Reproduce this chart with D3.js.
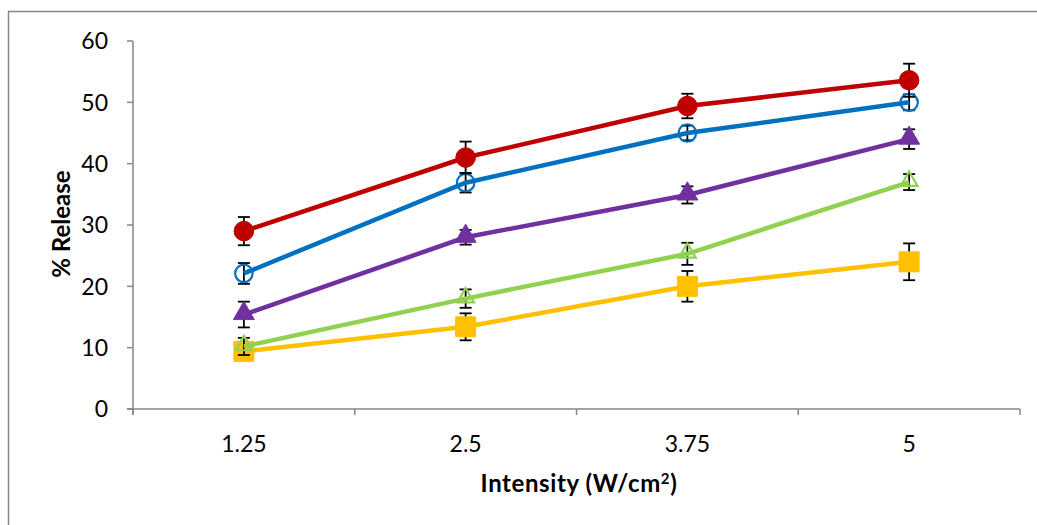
<!DOCTYPE html>
<html>
<head>
<meta charset="utf-8">
<script src="https://cdn.jsdelivr.net/npm/d3@7"></script>
<style>
  body { margin: 0; background: #fff; }
  svg { display: block; }
  text { font-family: Lato, "Open Sans", sans-serif; fill: #000; }
</style>
</head>
<body>
<div id="chart"></div>
<script>
// categories (intensity, W/cm2)
const intensities = ["1.25", "2.5", "3.75", "5"];
const yTicks = [0, 10, 20, 30, 40, 50, 60];

// series values (% release) and their error bars
const orangeValues = [9.4, 13.4, 20.0, 24.0];
const orangeErrors = [0.9, 2.2, 2.5, 3.0];
const greenValues = [10.2, 18.0, 25.3, 37.0];
const greenErrors = [1.4, 1.5, 1.8, 1.3];
const purpleValues = [15.4, 28.0, 34.9, 44.0];
const purpleErrors = [2.1, 1.2, 1.4, 1.6];
const blueValues = [22.1, 36.9, 45.0, 50.0];
const blueErrors = [1.7, 1.6, 1.2, 1.3];
const redValues = [29.0, 41.0, 49.4, 53.6];
const redErrors = [2.3, 2.6, 2.0, 2.7];

// drawing order: bottom to top
const series = [
  { values: orangeValues, errors: orangeErrors, color: "#FFC000", marker: "square", filled: true },
  { values: greenValues, errors: greenErrors, color: "#92D050", marker: "triangle", filled: false },
  { values: purpleValues, errors: purpleErrors, color: "#7030A0", marker: "triangle", filled: true },
  { values: blueValues, errors: blueErrors, color: "#0070C0", marker: "circle", filled: false },
  { values: redValues, errors: redErrors, color: "#C00000", marker: "circle", filled: true }
];

const width = 1037, height = 525;
const axisColor = "#868686";

const svg = d3.select("#chart").append("svg")
  .attr("width", width)
  .attr("height", height);

// outer frame (only left and top edges fall inside the picture)
svg.append("path")
  .attr("d", "M8.5,530 L8.5,11.5 L1045,11.5")
  .attr("fill", "none")
  .attr("stroke", axisColor)
  .attr("stroke-width", 1.5);

const x = d3.scaleBand().domain(intensities).range([133, 1020]);
const y = d3.scaleLinear().domain([0, 60]).range([409, 41]);

// y axis
const yAxis = svg.append("g");
yAxis.append("line")
  .attr("x1", 133).attr("x2", 133)
  .attr("y1", y(60)).attr("y2", y(0) + 6)
  .attr("stroke", axisColor).attr("stroke-width", 1.5);
yAxis.selectAll(".ytick")
  .data(yTicks)
  .join("line")
  .attr("x1", 127).attr("x2", 133)
  .attr("y1", d => y(d)).attr("y2", d => y(d))
  .attr("stroke", axisColor).attr("stroke-width", 1.5);
yAxis.selectAll(".ylabel")
  .data(yTicks)
  .join("text")
  .attr("x", 108)
  .attr("y", d => y(d))
  .attr("dy", "0.36em")
  .attr("text-anchor", "end")
  .style("font-size", "23px")
  .text(d => d);

// x axis
const xAxis = svg.append("g");
xAxis.append("line")
  .attr("x1", 127).attr("x2", 1020)
  .attr("y1", y(0)).attr("y2", y(0))
  .attr("stroke", axisColor).attr("stroke-width", 1.5);
const bounds = intensities.map(d => x(d)).concat([x.range()[1]]);
xAxis.selectAll(".xtick")
  .data(bounds)
  .join("line")
  .attr("x1", d => d).attr("x2", d => d)
  .attr("y1", y(0)).attr("y2", y(0) + 6)
  .attr("stroke", axisColor).attr("stroke-width", 1.5);
xAxis.selectAll(".xlabel")
  .data(intensities)
  .join("text")
  .attr("x", d => x(d) + x.bandwidth() / 2)
  .attr("y", 452)
  .attr("text-anchor", "middle")
  .style("font-size", "23px")
  .text(d => d);

// axis titles
const xTitle = svg.append("text")
  .attr("x", 579)
  .attr("y", 492)
  .attr("text-anchor", "middle")
  .style("font-size", "24px")
  .style("font-weight", "bold")
  .style("letter-spacing", "0.6px");
xTitle.append("tspan").text("Intensity (W/cm");
xTitle.append("tspan").attr("dy", -8).style("font-size", "15px").text("2");
xTitle.append("tspan").attr("dy", 8).text(")");

svg.append("text")
  .attr("transform", "translate(70,224) rotate(-90)")
  .attr("text-anchor", "middle")
  .style("font-size", "24px")
  .style("font-weight", "bold")
  .text("% Release");

const cx = i => x(intensities[i]) + x.bandwidth() / 2;
const line = d3.line().x((d, i) => cx(i)).y(d => y(d));

series.forEach(s => {
  const g = svg.append("g");

  // error bars
  s.values.forEach((v, i) => {
    const e = s.errors[i];
    const eb = g.append("g").attr("stroke", "#000").attr("stroke-width", 1.8);
    eb.append("line").attr("x1", cx(i)).attr("x2", cx(i)).attr("y1", y(v - e)).attr("y2", y(v + e));
    eb.append("line").attr("x1", cx(i) - 6).attr("x2", cx(i) + 6).attr("y1", y(v + e)).attr("y2", y(v + e));
    eb.append("line").attr("x1", cx(i) - 6).attr("x2", cx(i) + 6).attr("y1", y(v - e)).attr("y2", y(v - e));
  });

  g.append("path")
    .datum(s.values)
    .attr("d", line)
    .attr("fill", "none")
    .attr("stroke", s.color)
    .attr("stroke-width", 4.5);

  const symType = s.marker === "circle" ? d3.symbolCircle
    : s.marker === "triangle" ? d3.symbolTriangle : d3.symbolSquare;
  const size = s.marker === "circle" ? 300 : s.marker === "triangle" ? (s.filled ? 190 : 150) : 400;

  g.selectAll(".marker")
    .data(s.values)
    .join("path")
    .attr("transform", (d, i) => `translate(${cx(i)},${y(d) + (s.marker === "triangle" ? -1 : 0)})`)
    .attr("d", d3.symbol().type(symType).size(s.filled ? size : size * 0.8))
    .attr("fill", s.filled ? s.color : "none")
    .attr("stroke", s.color)
    .attr("stroke-width", s.filled ? 1 : 2.2);
});
</script>
</body>
</html>
